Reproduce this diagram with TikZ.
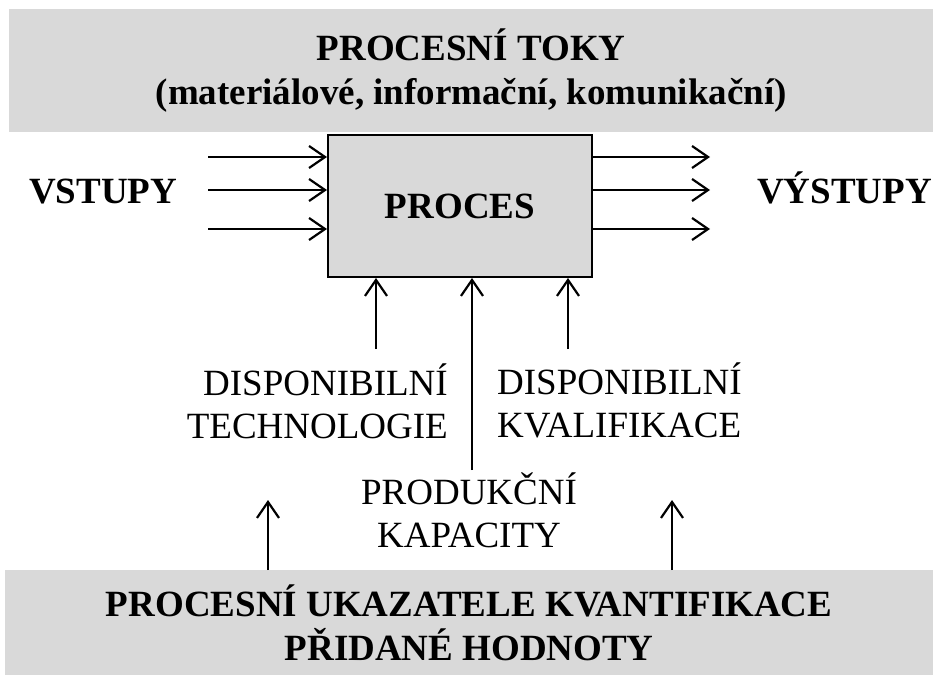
\documentclass[tikz,border=0pt]{standalone}
\usepackage{fontspec}
\setmainfont{Liberation Serif}
\usetikzlibrary{positioning, arrows.meta, calc}
\definecolor{bandgray}{RGB}{217,217,217}

\begin{document}
\begin{tikzpicture}[
    x=1pt, y=-1pt,
    band/.style={rectangle, fill=bandgray, inner sep=0pt, align=center, font=\fontsize{37}{44}\selectfont\bfseries},
    box/.style={rectangle, draw, line width=2pt, fill=bandgray, minimum width=264pt, minimum height=142pt, font=\fontsize{37}{44}\selectfont\bfseries},
    heading/.style={inner sep=0pt, font=\fontsize{37}{43}\selectfont\bfseries},
    txt/.style={inner sep=0pt, font=\fontsize{37}{43}\selectfont},
    arrow/.style={-{Straight Barb[length=16pt, width=22pt]}, line width=2.2pt}
]
    \useasboundingbox (0,0) rectangle (933,675);

    % Bands
    \node[band, minimum width=924pt, minimum height=123pt, anchor=north west] (toky) at (9,9) {PROCESNÍ TOKY\\(materiálové, informační, komunikační)};
    \node[band, minimum width=928pt, minimum height=105pt, anchor=north west] (ukazatele) at (5,570) {PROCESNÍ UKAZATELE KVANTIFIKACE\\PŘIDANÉ HODNOTY};

    % Process
    \node[box] (proces) at (460,206) {PROCES};

    % Inputs and outputs
    \node[heading, anchor=base west] (vstupy) at (29,203) {VSTUPY};
    \node[heading, anchor=base west] (vystupy) at (757,203) {VÝSTUPY};

    \coordinate (in-a) at (208,157);
    \coordinate (in-b) at (208,190);
    \coordinate (in-c) at (208,229);
    \coordinate (out-a) at (710,157);
    \coordinate (out-b) at (710,190);
    \coordinate (out-c) at (710,229);

    \draw[arrow] (in-a) -- (in-a -| proces.west);
    \draw[arrow] (in-b) -- (in-b -| proces.west);
    \draw[arrow] (in-c) -- (in-c -| proces.west);
    \draw[arrow] (out-a -| proces.east) -- (out-a);
    \draw[arrow] (out-b -| proces.east) -- (out-b);
    \draw[arrow] (out-c -| proces.east) -- (out-c);

    % Resources (base = last line)
    \node[txt, anchor=base east, align=right] (technologie) at (448,438) {DISPONIBILNÍ\\TECHNOLOGIE};
    \node[txt, anchor=base west, align=left] (kvalifikace) at (497,437) {DISPONIBILNÍ\\KVALIFIKACE};
    \node[txt, anchor=base, align=center] (kapacity) at (469,547) {PRODUKČNÍ\\KAPACITY};

    \coordinate (tech-end) at (376,349);
    \coordinate (kap-end) at (472,470);
    \coordinate (kval-end) at (568,349);
    \draw[arrow] (tech-end) -- (tech-end |- proces.south);
    \draw[arrow] (kap-end) -- (kap-end |- proces.south);
    \draw[arrow] (kval-end) -- (kval-end |- proces.south);

    % Indicators
    \coordinate (left-tip) at (268,500);
    \coordinate (right-tip) at (672,500);
    \draw[arrow] (left-tip |- ukazatele.north) -- (left-tip);
    \draw[arrow] (right-tip |- ukazatele.north) -- (right-tip);
\end{tikzpicture}
\end{document}
